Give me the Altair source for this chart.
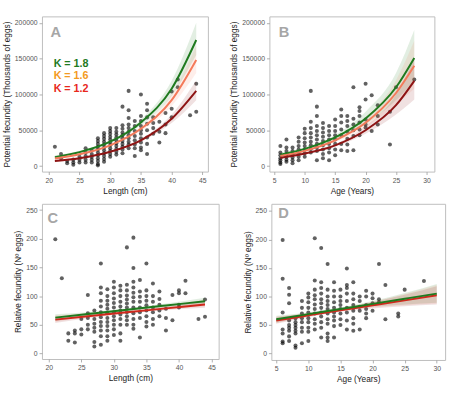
import altair as alt
import pandas as pd

FONT = "Liberation Sans"

GREEN = "#1f7a1f"
ORANGE = "#f47a5a"
DARKRED = "#8e1414"
RED = "#d0281c"

# ---------------- Panel A: potential fecundity vs length (cm) ----------------
A_points = {
    21: [27000],
    22: [17000, 11000],
    23: [7000, 4000],
    24: [9000, 5000, 2000],
    25: [13000, 9000, 5000],
    26: [25000, 19000, 14000, 9000, 5000],
    27: [22000, 17000, 13000, 9000, 5000],
    28: [39000, 35000, 31000, 27000, 23000, 19000, 15000, 11000, 7000, 3000, 1000],
    29: [46000, 42000, 38000, 34000, 30000, 26000, 22000, 18000, 14000, 10000, 6000],
    30: [53000, 49000, 45000, 41000, 37000, 33000, 29000, 25000, 21000, 17000, 13000],
    31: [53000, 48000, 44000, 40000, 36000, 32000, 28000, 24000, 20000, 16000],
    32: [83000, 57000, 52000, 47000, 43000, 39000, 35000, 31000, 27000, 23000, 18000],
    33: [105000, 78000, 67000, 58000, 53000, 48000, 43000, 39000, 34000, 30000, 25000],
    34: [63000, 56000, 49000, 42000, 36000, 30000, 25000, 14000],
    35: [100000, 70000, 63000, 56000, 50000, 45000, 39000, 33000, 26000, 22000],
    36: [87000, 78000, 68000, 59000, 50000, 40000, 31000, 17000],
    37: [68000, 60000, 53000, 45000],
    38: [62000, 48000, 33000],
    39: [74000, 58000, 46000],
    40: [104000, 80000, 68000],
    41: [121000, 110000],
    43: [71000],
    44: [115000, 76000],
}
A_x = [21, 25, 30, 35, 40, 44]
A_green = [12500, 19500, 34000, 61000, 108000, 176000]
A_orange = [10500, 16500, 29000, 52000, 92000, 148000]
A_red = [7000, 11000, 20000, 36000, 66000, 105000]
A_green_lo = [10500, 17500, 32000, 57000, 98000, 155000]
A_green_hi = [15000, 21500, 36000, 65000, 119000, 200000]
A_orange_lo = [9000, 15000, 27500, 49000, 84000, 130000]
A_orange_hi = [12500, 18000, 30500, 55500, 100000, 168000]
A_red_lo = [5500, 9800, 19000, 34000, 60000, 92000]
A_red_hi = [8500, 12200, 21000, 38000, 72000, 120000]

# ---------------- Panel B: potential fecundity vs age (years) ----------------
B_points = {
    6: [28000, 19000, 15000, 11000, 8000, 5000, 3000],
    7: [37000, 26000, 21000, 17000, 13000, 9000, 6000],
    8: [26000, 21000, 16000, 12000, 8000, 4000],
    9: [40000, 34000, 28000, 23000, 18000, 13000, 8000],
    10: [52000, 46000, 39000, 33000, 28000, 23000, 18000, 13000],
    11: [105000, 62000, 53000, 46000, 40000, 34000, 29000, 24000, 19000],
    12: [83000, 70000, 56000, 49000, 43000, 37000, 31000, 26000, 21000, 8000],
    13: [60000, 53000, 47000, 41000, 35000, 29000, 23000, 17000, 11000],
    14: [56000, 49000, 43000, 37000, 31000, 25000, 19000, 8000],
    15: [65000, 56000, 49000, 43000, 37000, 31000, 23000, 15000],
    16: [79000, 70000, 61000, 51000, 43000, 31000, 22000],
    17: [70000, 63000, 56000, 48000, 38000, 30000, 21000],
    18: [110000, 66000, 58000, 50000, 42000, 22000],
    19: [82000, 77000, 70000, 61000, 51000, 43000],
    20: [115000, 93000, 65000, 58000, 54000],
    21: [99000, 49000],
    22: [85000, 70000, 58000],
    24: [76000, 30000],
    25: [110000],
    28: [121000],
}
B_x = [6, 10, 15, 20, 25, 28]
B_green = [16000, 24000, 40000, 66500, 110000, 151000]
B_orange = [14000, 21300, 36000, 60500, 102000, 140000]
B_red = [11500, 17500, 29000, 50000, 85000, 119000]
B_green_lo = [13500, 22000, 37000, 58000, 92000, 118000]
B_green_hi = [18500, 26000, 43500, 76000, 130000, 190000]
B_orange_lo = [12000, 19500, 33500, 54000, 86000, 108000]
B_orange_hi = [16500, 23000, 38500, 68000, 120000, 175000]
B_red_lo = [9500, 16000, 27000, 45000, 72000, 93000]
B_red_hi = [13500, 19000, 31000, 56000, 100000, 150000]

# ---------------- Panel C: relative fecundity vs length (cm) ----------------
C_points = {
    21: [199],
    22: [131],
    23: [35, 22],
    24: [40, 35, 19],
    25: [60, 42, 33],
    26: [102, 70, 62, 50, 42],
    27: [75, 60, 52, 45, 38, 20, 12],
    28: [157, 115, 105, 92, 82, 72, 63, 55, 48, 40, 30, 15],
    29: [112, 100, 92, 85, 78, 70, 62, 55, 48, 40, 30, 22],
    30: [125, 115, 105, 96, 88, 80, 72, 65, 58, 50, 42, 32],
    31: [118, 110, 100, 90, 82, 75, 68, 60, 50, 35, 22],
    32: [185, 120, 110, 101, 94, 87, 80, 72, 65, 58, 50],
    33: [202, 149, 125, 115, 106, 98, 90, 80, 70, 60, 50, 43],
    34: [128, 108, 99, 90, 80, 72, 62, 28],
    35: [157, 110, 100, 92, 84, 75, 65, 55, 47],
    36: [122, 100, 90, 80, 72, 60, 50],
    37: [108, 95, 85, 75, 65],
    38: [78, 62, 40],
    39: [102, 58],
    40: [110, 105, 85, 80],
    41: [127, 105],
    43: [60],
    44: [94, 64],
}
C_x = [21, 26, 32, 38, 44]
C_green = [62.5, 68.7, 76.2, 83.6, 91]
C_red = [59, 64.8, 71.7, 78.6, 85.5]
C_green_lo = [56.5, 65.5, 74, 80.5, 85]
C_green_hi = [68.5, 72, 78.5, 87, 97]
C_orange_lo = [55, 63.5, 72, 78, 82]
C_orange_hi = [66.5, 70, 76, 84, 94]
C_red_lo = [53, 61.5, 69.5, 75.5, 79.5]
C_red_hi = [65, 68, 74, 81.5, 91.5]

# ---------------- Panel D: relative fecundity vs age (years) ----------------
D_points = {
    6: [199, 131, 72, 42, 35, 21, 18],
    7: [115, 103, 88, 58, 50, 45, 40, 30, 22],
    8: [62, 55, 50, 45, 40, 35, 14, 10],
    9: [92, 80, 70, 62, 55, 45, 38, 18],
    10: [105, 98, 90, 80, 72, 62, 55, 45, 38, 22],
    11: [202, 128, 112, 102, 95, 86, 78, 70, 60, 52, 42],
    12: [185, 125, 115, 105, 95, 88, 80, 72, 65, 55, 45, 28],
    13: [157, 112, 100, 92, 85, 78, 70, 60, 52, 35, 28, 22],
    14: [125, 110, 100, 90, 80, 72, 65, 58, 48, 28],
    15: [112, 100, 92, 85, 78, 70, 60, 50],
    16: [149, 120, 115, 105, 92, 80, 72, 58, 42],
    17: [125, 105, 95, 85, 75, 62, 52, 40],
    18: [100, 92, 82, 75, 42],
    19: [110, 100, 85, 78, 70, 62],
    20: [105, 97, 88, 75],
    21: [157, 95, 90],
    22: [120, 60],
    24: [70, 65],
    25: [112],
    28: [127],
}
D_x = [5, 10, 15, 20, 25, 30]
D_green = [60, 69, 78, 87, 96, 105]
D_red = [58, 66.8, 75.6, 84.4, 93.2, 102]
D_green_lo = [54, 66, 75.5, 82, 86, 89]
D_green_hi = [66, 72, 80.5, 92, 106, 122]
D_orange_lo = [53, 65, 74, 80.5, 84.5, 87.5]
D_orange_hi = [65, 71, 79, 91, 104.5, 120]
D_red_lo = [52, 63.5, 73, 79, 83, 86]
D_red_hi = [64, 70, 78, 90, 103, 118]

K_labels = ["K = 1.8", "K = 1.6", "K = 1.2"]
K_colors = ["#1f7a1f", "#f39a22", "#e8281c"]


def points_frame(cols):
    rows = [(x, y) for x, ys in cols.items() for y in ys]
    return pd.DataFrame(rows, columns=["x", "y"])


def band_frame(xs, bands):
    rows = []
    for name, (lo, hi) in bands.items():
        for x, a, b in zip(xs, lo, hi):
            rows.append({"x": x, "lo": a, "hi": b, "s": name})
    return pd.DataFrame(rows)


def panel(pts, xs, lines, bands, xdom, ydom, xticks, yticks, xtitle, ytitle,
          letter, letter_pos, w, h, line_colors, klabels=None):
    xsc = alt.Scale(domain=xdom, nice=False, zero=False)
    ysc = alt.Scale(domain=ydom, nice=False, zero=False)
    xax = alt.Axis(values=xticks, title=xtitle, format="d",
                   labelOverlap=False, labelFlush=False)
    yax = alt.Axis(values=yticks, title=ytitle, format="d",
                   labelOverlap=False, labelFlush=False)

    def X(field):
        return alt.X(field, type="quantitative", scale=xsc, axis=xax)

    def Y(field):
        return alt.Y(field, type="quantitative", scale=ysc, axis=yax)

    band_names = list(bands.keys())
    band_layer = alt.Chart(band_frame(xs, bands)).mark_area(
        opacity=0.13, interpolate="monotone"
    ).encode(
        x=X("x"),
        y=Y("lo"),
        y2="hi:Q",
        color=alt.Color("s:N", scale=alt.Scale(domain=band_names,
                                              range=[GREEN, ORANGE, DARKRED]),
                        legend=None),
        detail="s:N",
    )

    pt_layer = alt.Chart(points_frame(pts)).mark_circle(
        size=17, color="#000000", opacity=0.62
    ).encode(x=X("x"), y=Y("y"))

    line_rows = []
    for name, vals in lines.items():
        for x, v in zip(xs, vals):
            line_rows.append({"x": x, "y": v, "s": name})
    names = list(lines.keys())
    line_layer = alt.Chart(pd.DataFrame(line_rows)).mark_line(
        strokeWidth=2, interpolate="monotone"
    ).encode(
        x=X("x"),
        y=Y("y"),
        color=alt.Color("s:N", scale=alt.Scale(domain=names, range=line_colors),
                        legend=None),
    )

    letter_df = pd.DataFrame([{"x": letter_pos[0], "y": letter_pos[1], "t": letter}])
    letter_layer = alt.Chart(letter_df).mark_text(
        align="left", baseline="middle", fontSize=15, fontWeight="bold",
        color="#a6a6a6", font=FONT
    ).encode(x=X("x"), y=Y("y"), text="t:N")

    layers = [pt_layer, band_layer, line_layer, letter_layer]
    if klabels is not None:
        layers.append(
            alt.Chart(pd.DataFrame(klabels)).mark_text(
                align="left", baseline="middle", fontSize=11, fontWeight="bold", font=FONT
            ).encode(
                x=X("x"), y=Y("y"), text="t:N",
                color=alt.Color("t:N", scale=alt.Scale(domain=K_labels, range=K_colors),
                                legend=None),
            )
        )
    return alt.layer(*layers).resolve_scale(color="independent").properties(width=w, height=h)


k_rows = [
    {"x": 20.8, "y": 142700, "t": K_labels[0]},
    {"x": 20.8, "y": 125900, "t": K_labels[1]},
    {"x": 20.8, "y": 107500, "t": K_labels[2]},
]

fec_ticks = [0, 50000, 100000, 150000, 200000]
rel_ticks = [0, 50, 100, 150, 200, 250]

pA = panel(
    A_points, A_x,
    {"a_green": A_green, "b_orange": A_orange, "c_red": A_red},
    {"a_green": (A_green_lo, A_green_hi), "b_orange": (A_orange_lo, A_orange_hi),
     "c_red": (A_red_lo, A_red_hi)},
    [18.9, 45.9], [-7700, 209000], [20, 25, 30, 35, 40, 45], fec_ticks,
    "Length (cm)", "Potential fecundity (Thousands of eggs)",
    "A", (20.3, 187000), 170, 159, [GREEN, ORANGE, DARKRED], k_rows,
)

pB = panel(
    B_points, B_x,
    {"a_green": B_green, "b_orange": B_orange, "c_red": B_red},
    {"a_green": (B_green_lo, B_green_hi), "b_orange": (B_orange_lo, B_orange_hi),
     "c_red": (B_red_lo, B_red_hi)},
    [4.2, 31.3], [-7700, 209000], [5, 10, 15, 20, 25, 30], fec_ticks,
    "Age (Years)", "Potential fecundity (Thousands of eggs)",
    "B", (5.75, 187000), 169, 159, [GREEN, ORANGE, DARKRED],
)

pC = panel(
    C_points, C_x,
    {"b_red": C_red, "c_green": C_green},
    {"a_green": (C_green_lo, C_green_hi), "b_orange": (C_orange_lo, C_orange_hi),
     "c_red": (C_red_lo, C_red_hi)},
    [18.95, 46.1], [-9.7, 261], [20, 25, 30, 35, 40, 45], rel_ticks,
    "Length (cm)", "Relative fecundity (Nº eggs)",
    "C", (19.8, 236), 181, 159, [RED, GREEN],
)

pD = panel(
    D_points, D_x,
    {"b_red": D_red, "c_green": D_green},
    {"a_green": (D_green_lo, D_green_hi), "b_orange": (D_orange_lo, D_orange_hi),
     "c_red": (D_red_lo, D_red_hi)},
    [4.24, 31.3], [-11.4, 262.5], [5, 10, 15, 20, 25, 30], rel_ticks,
    "Age (Years)", "Relative fecundity (Nº eggs)",
    "D", (5.3, 246), 178, 160, [RED, GREEN],
).properties(title=alt.TitleParams(" ", fontSize=2, offset=3))

top = alt.hconcat(pA, pB, spacing=21)
bottom = alt.hconcat(pC, pD, spacing=23)

chart = alt.vconcat(top, bottom, spacing=3).properties(
    padding={"left": 2, "top": 11, "right": 4, "bottom": 4}
).configure(font=FONT).configure_view(
    stroke="#bdbdbd", strokeWidth=1
).configure_axis(
    grid=False, domain=False, tickColor="#9a9a9a", tickSize=3, tickWidth=0.8,
    labelFontSize=7, labelColor="#555555", labelFont=FONT, labelPadding=2,
    titleFontSize=8.5, titleColor="#222222", titleFontWeight="normal", titleFont=FONT,
    titlePadding=3,
).configure_concat(spacing=3)

chart.save("out.html", embed_options={"renderer": "svg", "actions": False})
